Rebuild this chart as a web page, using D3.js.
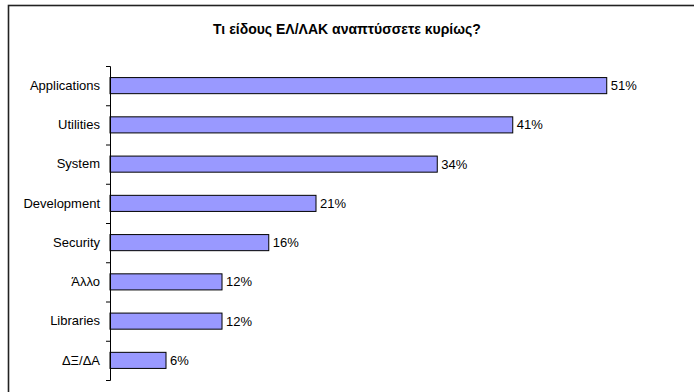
<!DOCTYPE html>
<html>
<head>
<meta charset="utf-8">
<script src="https://cdn.jsdelivr.net/npm/d3@7"></script>
<style>
  body { margin: 0; background: #fff; }
  svg { display: block; font-family: "Liberation Sans", Arial, sans-serif; }
</style>
</head>
<body>
<script>
// categories, top to bottom
categories = ["Applications", "Utilities", "System", "Development", "Security", "Άλλο", "Libraries", "ΔΞ/ΔΑ"]
// share of respondents (%)
values = [51.0, 41.35, 33.6, 21.15, 16.3, 11.5, 11.5, 5.75]
// printed data labels
valueLabels = ["51%", "41%", "34%", "21%", "16%", "12%", "12%", "6%"]

title = "Τι είδους ΕΛ/ΛΑΚ αναπτύσσετε κυρίως?"

width = 694
height = 392
margin = ({top: 66, right: 0, bottom: 12, left: 110})

data = categories.map((name, i) => ({name, value: values[i], label: valueLabels[i]}))

x = d3.scaleLinear()
    .domain([0, 60])
    .range([margin.left, margin.left + 60 * 9.74])

y = d3.scaleBand()
    .domain(categories)
    .range([margin.top, height - margin.bottom])
    .paddingInner(0.59)
    .paddingOuter(0.295)

// band edges for the tick marks
yEdge = d3.scaleLinear()
    .domain([0, categories.length])
    .range([margin.top, height - margin.bottom])

const svg = d3.select("body").append("svg")
    .attr("width", width)
    .attr("height", height)
    .attr("viewBox", [0, 0, width, height]);

// chart frame (runs off the right and bottom edges)
svg.append("rect")
    .attr("x", 8.5)
    .attr("y", 5.5)
    .attr("width", 700)
    .attr("height", 400)
    .attr("fill", "none")
    .attr("stroke", "#222")
    .attr("stroke-width", 1.6);

svg.append("text")
    .attr("x", 347)
    .attr("y", 34)
    .attr("text-anchor", "middle")
    .attr("font-size", 14)
    .attr("font-weight", "bold")
    .text(title);

svg.append("g")
    .attr("class", "bars")
    .selectAll("rect")
    .data(data)
    .join("rect")
    .attr("x", x(0))
    .attr("y", d => y(d.name))
    .attr("width", d => x(d.value) - x(0))
    .attr("height", y.bandwidth())
    .attr("fill", "#9999ff")
    .attr("stroke", "#000")
    .attr("stroke-width", 1);

svg.append("g")
    .attr("class", "labels")
    .selectAll("text")
    .data(data)
    .join("text")
    .attr("x", d => x(d.value) + 4)
    .attr("y", d => y(d.name) + y.bandwidth() / 2)
    .attr("dy", "0.35em")
    .attr("font-size", 13)
    .text(d => d.label);

// axis line + ticks at band edges
svg.append("g")
    .attr("transform", `translate(${margin.left},0)`)
    .call(d3.axisLeft(yEdge).ticks(categories.length).tickSize(4).tickFormat(""))
    .call(g => g.selectAll("line, path").attr("stroke", "#000"));

// category names
svg.append("g")
    .attr("transform", `translate(${margin.left},0)`)
    .call(d3.axisLeft(y).tickSize(0).tickPadding(10))
    .call(g => g.select(".domain").remove())
    .call(g => g.selectAll("text").attr("font-size", 13).attr("font-family", "Liberation Sans, Arial, sans-serif").attr("fill", "#000"));
</script>
</body>
</html>
